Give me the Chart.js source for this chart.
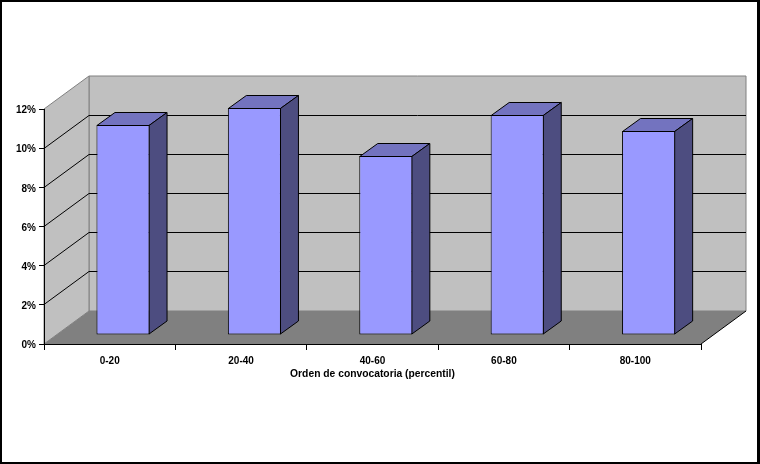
<!DOCTYPE html>
<html>
<head>
<meta charset="utf-8">
<style>
  html, body { margin: 0; padding: 0; background: #fff; }
  .marco { position: absolute; left: 0; top: 0; width: 760px; height: 464px; box-sizing: border-box;
           border: solid #000; border-width: 2px 3px 2px 2px; pointer-events: none; }
  canvas { position: absolute; left: 0; top: 0; }
</style>
<script src="https://cdn.jsdelivr.net/npm/chart.js@4"></script>
</head>
<body>
<canvas class="grafico" width="760" height="464"></canvas>
<div class="marco"></div>
<script>
const percentiles = ["0-20", "20-40", "40-60", "60-80", "80-100"];
const valores = [10.72, 11.59, 9.14, 11.23, 10.42];
const ticksY = [0, 2, 4, 6, 8, 10, 12];
const tituloX = "Orden de convocatoria (percentil)";

const canvas = document.querySelector('.grafico');
const fuente = { family: "'Liberation Sans', Arial", size: 10, weight: 'bold' };
const fuenteTitulo = { family: "'Liberation Sans', Arial", size: 10.3, weight: 'bold' };

// depth of the 3D box and of the bars, in pixels
const fondoX = 45, fondoY = -33;
const barraFondoX = 18, barraFondoY = -13;
const barraDespX = 13.3, barraDespY = -9;

function poligono(ctx, puntos, relleno, linea) {
    ctx.beginPath();
    puntos.forEach((p, i) => i ? ctx.lineTo(p[0], p[1]) : ctx.moveTo(p[0], p[1]));
    ctx.closePath();
    ctx.fillStyle = relleno;
    ctx.fill();
    if (linea) {
        ctx.strokeStyle = linea;
        ctx.lineWidth = 1;
        ctx.stroke();
    }
}

function linea(ctx, x1, y1, x2, y2, color) {
    ctx.beginPath();
    ctx.moveTo(x1, y1);
    ctx.lineTo(x2, y2);
    ctx.strokeStyle = color;
    ctx.lineWidth = 1;
    ctx.stroke();
}

const caja3d = {
    id: 'caja3d',
    beforeDraw(chart) {
        const ctx = chart.ctx;
        const { left, right } = chart.chartArea;
        const y = chart.scales.y;
        const y0 = y.getPixelForValue(0), yMax = y.getPixelForValue(12);
        ctx.save();
        poligono(ctx, [[left + fondoX, yMax + fondoY], [right + fondoX, yMax + fondoY], [right + fondoX, y0 + fondoY], [left + fondoX, y0 + fondoY]], '#c0c0c0', '#808080');
        poligono(ctx, [[left, yMax], [left + fondoX, yMax + fondoY], [left + fondoX, y0 + fondoY], [left, y0]], '#c0c0c0', '#808080');
        poligono(ctx, [[left, y0], [right, y0], [right + fondoX, y0 + fondoY], [left + fondoX, y0 + fondoY]], '#808080');
        ticksY.slice(1, -1).forEach((v) => {
            const py = Math.floor(y.getPixelForValue(v)) + 0.5;
            linea(ctx, left, py, left + fondoX, py + fondoY, '#000');
            linea(ctx, left + fondoX, py + fondoY, right + fondoX, py + fondoY, '#000');
        });
        linea(ctx, right, y0, right + fondoX, y0 + fondoY, '#000');
        ctx.restore();
    },
    beforeDatasetDraw(chart, args) {
        const ctx = chart.ctx;
        ctx.save();
        ctx.translate(barraDespX, barraDespY);
        args.meta.data.forEach((barra) => {
            const izq = barra.x - barra.width / 2 + 0.5, der = barra.x + barra.width / 2 - 0.5;
            const arriba = Math.round(barra.y) + 0.5, abajo = barra.base - 0.5;
            poligono(ctx, [[izq, arriba], [izq + barraFondoX, arriba + barraFondoY], [der + barraFondoX, arriba + barraFondoY], [der, arriba]], '#7373bf', '#000');
            poligono(ctx, [[der, arriba], [der + barraFondoX, arriba + barraFondoY], [der + barraFondoX, abajo + barraFondoY], [der, abajo]], '#4d4d80', '#000');
        });
    },
    afterDatasetDraw(chart) {
        chart.ctx.restore();
    }
};

new Chart(canvas, {
    type: 'bar',
    data: {
        labels: percentiles,
        datasets: [{
            data: valores,
            backgroundColor: '#9999ff',
            borderColor: '#000',
            borderWidth: 1,
            borderSkipped: false,
            barPercentage: 0.404,
            categoryPercentage: 1,
            clip: false
        }]
    },
    plugins: [caja3d],
    options: {
        responsive: false,
        animation: false,
        layout: { padding: { top: 109, right: 59, bottom: 84, left: 0 } },
        plugins: { legend: { display: false }, tooltip: { enabled: false } },
        scales: {
            x: {
                grid: { drawOnChartArea: false, drawTicks: true, tickLength: 6, color: '#000' },
                border: { color: '#000' },
                ticks: { color: '#000', font: fuente, padding: 5, maxRotation: 0 },
                title: { display: true, text: tituloX, color: '#000', font: fuenteTitulo, padding: { top: 2, bottom: 0 } },
                afterFit(scale) { scale.height = 36; }
            },
            y: {
                min: 0,
                max: 12,
                afterBuildTicks(scale) { scale.ticks = ticksY.map((v) => ({ value: v })); },
                grid: { drawOnChartArea: false, drawTicks: true, tickLength: 5, color: '#000' },
                border: { color: '#000' },
                ticks: { color: '#000', font: fuente, padding: 3, labelOffset: 1.5, callback: (v) => v + '%' },
                afterFit(scale) { scale.width = 44; }
            }
        }
    }
});
</script>
</body>
</html>
